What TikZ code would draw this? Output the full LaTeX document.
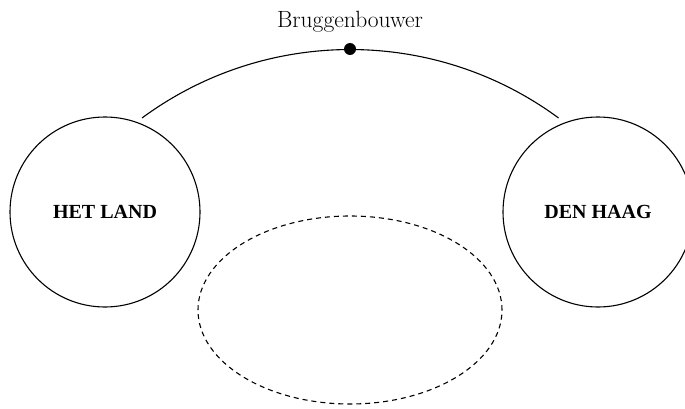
\documentclass[tikz,border=0pt]{standalone}
\usepackage{fontspec}
\newfontfamily\labelfont{Liberation Serif}
\usetikzlibrary{shapes.geometric}
\begin{document}
\begin{tikzpicture}[x=1pt,y=1pt,
  line/.style={line width=1.1pt,black},
  place/.style={circle,draw,line width=1.1pt,minimum size=190pt,inner sep=0pt,
    font=\labelfont\bfseries\fontsize{20}{22}\selectfont},
  dashring/.style={ellipse,draw,line width=1.1pt,dash pattern=on 5pt off 4pt,
    minimum width=304pt,minimum height=188pt,inner sep=0pt},
  dotmark/.style={circle,fill=black,minimum size=12pt,inner sep=0pt}]
\useasboundingbox (0,0) rectangle (685,408);
\clip (0,0) rectangle (685,408);
\node[place] (land) at (105,196) {HET LAND};
\node[place] (haag) at (598,196) {DEN HAAG};
\node[dashring] (ell) at (350,98) {};
\coordinate (aL) at (142,290);
\coordinate (aR) at (560,290);
\draw[line] (aL) arc[start angle=126.4,end angle=53.6,radius=351];
\node[dotmark] (dot) at (350,359) {};
\node[anchor=base,font=\fontsize{23.5}{26}\selectfont] (bb) at (350,380.7) {Bruggenbouwer};
\end{tikzpicture}
\end{document}
